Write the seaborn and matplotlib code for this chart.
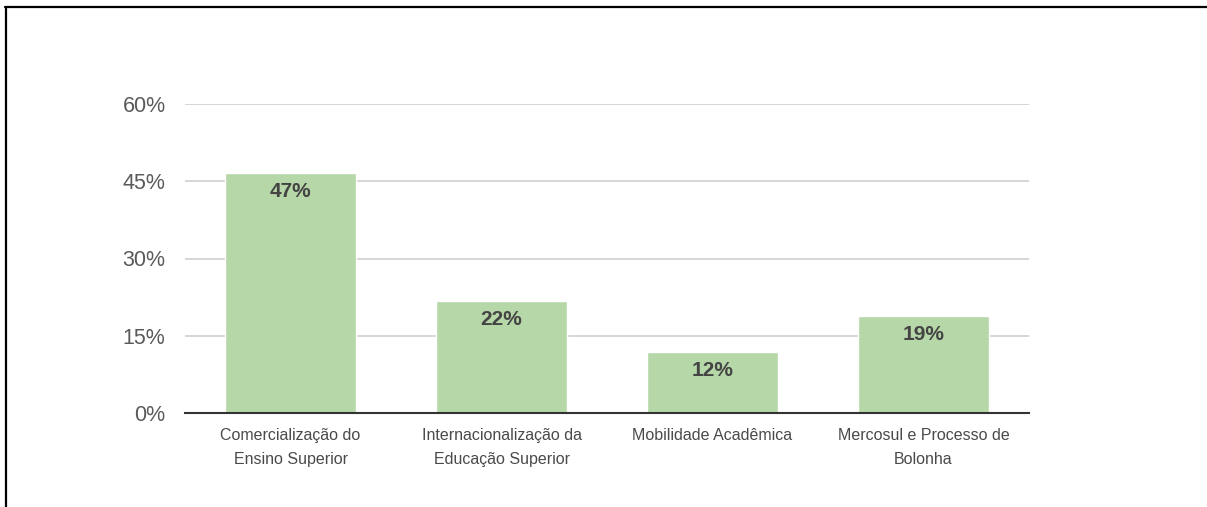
import matplotlib
matplotlib.use("Agg")
import matplotlib.pyplot as plt
import seaborn as sns
import pandas as pd
from matplotlib.lines import Line2D
from matplotlib.ticker import FuncFormatter

categories = ["Comercialização do\nEnsino Superior",
              "Internacionalização da\nEducação Superior",
              "Mobilidade Acadêmica",
              "Mercosul e Processo de\nBolonha"]
values = [46.6, 21.7, 11.8, 18.8]
value_labels = ["47%", "22%", "12%", "19%"]
yticks = [0, 15, 30, 45, 60]

sns.set_theme(style="white")
plt.rcParams['font.family'] = ['Liberation Sans', 'DejaVu Sans']

fig = plt.figure(figsize=(12.07, 5.07), dpi=100)
ax = fig.add_axes([185/1207, 1-413/507, (1029-185)/1207, (413-104)/507])

df = pd.DataFrame({"cat": categories, "val": values})
sns.barplot(data=df, x="cat", y="val", color="#b6d7a8", saturation=1,
            width=0.62, ax=ax, zorder=3)

ax.set_ylim(0, 60)
ax.set_xlim(-0.5, 3.5)
ax.set_yticks(yticks)
ax.yaxis.set_major_formatter(FuncFormatter(lambda v, p: f"{int(v)}%"))
ax.grid(axis="y", color="#d0d0d0", linewidth=1.2, zorder=0)
ax.set_axisbelow(True)
for s in ["top", "right", "left"]:
    ax.spines[s].set_visible(False)
ax.spines["bottom"].set_color("#333333")
ax.spines["bottom"].set_linewidth(1.5)
ax.spines["bottom"].set_zorder(4)
ax.set_xlabel("")
ax.set_ylabel("")
ax.tick_params(axis="y", length=0, pad=14, labelsize=15.5, labelcolor="#5a5a5a")
ax.tick_params(axis="x", length=0, pad=11, labelsize=11.5, labelcolor="#4a4a4a")
for t in ax.get_xticklabels():
    t.set_linespacing(1.75)

ax.bar_label(ax.containers[0], labels=value_labels, label_type="edge",
             padding=-20, fontsize=15, fontweight="bold", color="#444444")

# page border lines
fig.add_artist(Line2D([5/1207, 1.0], [1-7/507, 1-7/507], color="black",
                      linewidth=1.6, transform=fig.transFigure))
fig.add_artist(Line2D([6/1207, 6/1207], [0, 1-7/507], color="black",
                      linewidth=1.6, transform=fig.transFigure))

fig.savefig("out.png", dpi=100)
